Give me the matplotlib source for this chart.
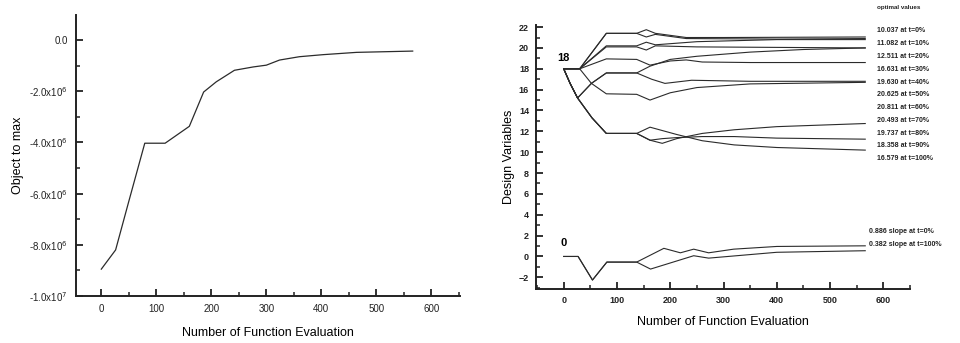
import matplotlib
matplotlib.use('Agg')
import matplotlib.pyplot as plt
from matplotlib.ticker import MultipleLocator

plt.rcParams['font.family'] = ['Liberation Sans', 'DejaVu Sans']

# left panel: objective history
obj_x = [0, 26, 50, 79, 116, 160, 186, 209, 242, 276, 300, 324, 360, 403, 464, 566]
obj_y = [-8.95, -8.2, -6.3, -4.03, -4.03, -3.37, -2.03, -1.63, -1.18, -1.05, -0.98, -0.78,
         -0.65, -0.57, -0.48, -0.43]
obj_ticks = [0, -2, -4, -6, -8, -10]
obj_labels = ['0.0', '-2.0x10$^6$', '-4.0x10$^6$', '-6.0x10$^6$', '-8.0x10$^6$', '-1.0x10$^7$']

# right panel: design variables
dv_a1_x = [0, 30, 80, 137, 155, 172, 230, 300, 566]
dv_a1_y = [18, 18, 21.4, 21.4, 21.75, 21.4, 21.0, 21.0, 21.05]
dv_a2_x = [0, 30, 80, 137, 155, 172, 230, 400, 566]
dv_a2_y = [18, 18, 21.4, 21.4, 21.05, 21.3, 20.9, 20.85, 20.9]
dv_b1_x = [0, 30, 80, 137, 155, 172, 250, 400, 566]
dv_b1_y = [18, 18, 20.2, 20.2, 20.55, 20.3, 20.6, 20.8, 20.8]
dv_b2_x = [0, 30, 80, 137, 155, 172, 250, 566]
dv_b2_y = [18, 18, 20.1, 20.1, 19.8, 20.2, 20.1, 20.0]
dv_c_x = [0, 30, 80, 137, 162, 200, 230, 260, 350, 566]
dv_c_y = [18, 18, 18.95, 18.9, 18.35, 18.75, 18.85, 18.65, 18.6, 18.6]
dv_d1_x = [0, 12, 26, 52, 80, 137, 162, 200, 250, 350, 450, 566]
dv_d1_y = [18, 16.6, 15.2, 16.6, 17.6, 17.6, 18.25, 18.9, 19.2, 19.6, 19.85, 20.0]
dv_d2_x = [0, 12, 26, 52, 80, 137, 165, 190, 240, 350, 566]
dv_d2_y = [18, 16.6, 15.2, 16.6, 17.6, 17.6, 17.0, 16.6, 16.9, 16.8, 16.8]
dv_e_x = [0, 30, 52, 80, 137, 162, 200, 250, 350, 566]
dv_e_y = [18, 18, 16.6, 15.6, 15.55, 15.0, 15.7, 16.2, 16.55, 16.7]
dv_f1_x = [0, 12, 26, 53, 80, 137, 162, 212, 260, 320, 400, 566]
dv_f1_y = [18, 16.6, 15.2, 13.3, 11.8, 11.8, 12.4, 11.7, 11.1, 10.7, 10.45, 10.2]
dv_f2_x = [0, 12, 26, 53, 80, 137, 162, 185, 212, 260, 320, 400, 566]
dv_f2_y = [18, 16.6, 15.2, 13.3, 11.8, 11.8, 11.15, 10.85, 11.3, 11.8, 12.15, 12.45, 12.75]
dv_f3_x = [0, 12, 26, 53, 80, 137, 162, 185, 212, 260, 320, 400, 566]
dv_f3_y = [18, 16.6, 15.2, 13.3, 11.8, 11.8, 11.15, 11.3, 11.4, 11.5, 11.5, 11.35, 11.25]

slope_hi_x = [0, 27, 54, 81, 137, 188, 219, 244, 272, 319, 400, 566]
slope_hi_y = [0, 0, -2.26, -0.54, -0.54, 0.78, 0.35, 0.7, 0.35, 0.7, 0.96, 1.02]
slope_lo_x = [0, 27, 54, 81, 137, 163, 244, 272, 400, 566]
slope_lo_y = [0, 0, -2.26, -0.54, -0.54, -1.21, 0.07, -0.16, 0.4, 0.55]

opt_labels = ['10.037 at t=0%', '11.082 at t=10%', '12.511 at t=20%', '16.631 at t=30%',
              '19.630 at t=40%', '20.625 at t=50%', '20.811 at t=60%', '20.493 at t=70%',
              '19.737 at t=80%', '18.358 at t=90%', '16.579 at t=100%']
slope_labels = ['0.886 slope at t=0%', '0.382 slope at t=100%']

LINE = '#2b2b2b'
W, H = 960, 343


def style_axes(ax):
    for s in ['top', 'right']:
        ax.spines[s].set_visible(False)
    for s in ['left', 'bottom']:
        ax.spines[s].set_linewidth(1.4)
        ax.spines[s].set_color('#222222')
    ax.tick_params(which='major', direction='in', length=5, width=1.3, colors='#222222')
    ax.tick_params(which='minor', direction='in', length=3, width=1.1, colors='#222222')
    ax.xaxis.set_major_locator(MultipleLocator(100))
    ax.xaxis.set_minor_locator(MultipleLocator(50))


fig = plt.figure(figsize=(9.6, 3.43), dpi=100)

# left
ax1 = fig.add_axes([76 / W, 1 - 296 / H, (460 - 76) / W, (296 - 15) / H])
ax1.plot(obj_x, obj_y, color=LINE, lw=0.9)
ax1.set_xlim(-46, 652)
ax1.set_ylim(-10, 0.98)
style_axes(ax1)
ax1.set_yticks(obj_ticks)
ax1.set_yticklabels(obj_labels)
ax1.yaxis.set_minor_locator(MultipleLocator(1))
ax1.tick_params(axis='both', labelsize=7, colors='#222222', pad=6)
ax1.set_xlabel('Number of Function Evaluation', fontsize=9, labelpad=9)
ax1.set_ylabel('Object to max', fontsize=9, labelpad=4)

# right
ax2 = fig.add_axes([536 / W, 1 - 289.3 / H, (910 - 536) / W, (289.3 - 25) / H])
for xs, ys in [(dv_a1_x, dv_a1_y), (dv_a2_x, dv_a2_y), (dv_b1_x, dv_b1_y), (dv_b2_x, dv_b2_y),
               (dv_c_x, dv_c_y), (dv_d1_x, dv_d1_y), (dv_d2_x, dv_d2_y), (dv_e_x, dv_e_y),
               (dv_f1_x, dv_f1_y), (dv_f2_x, dv_f2_y), (dv_f3_x, dv_f3_y),
               (slope_hi_x, slope_hi_y), (slope_lo_x, slope_lo_y)]:
    ax2.plot(xs, ys, color=LINE, lw=0.8)
ax2.set_xlim(-52, 650)
ax2.set_ylim(-3.15, 22.2)
style_axes(ax2)
ax2.yaxis.set_major_locator(MultipleLocator(2))
ax2.yaxis.set_minor_locator(MultipleLocator(1))
ax2.tick_params(axis='both', labelsize=6.5, colors='#222222', pad=5)
for lab in ax2.get_xticklabels() + ax2.get_yticklabels():
    lab.set_fontweight('bold')
ax2.set_xlabel('Number of Function Evaluation', fontsize=9, labelpad=8)
ax2.set_ylabel('Design Variables', fontsize=9, labelpad=3)
ax2.text(0, 19.0, '18', fontsize=8, fontweight='bold', ha='center', va='center')
ax2.text(0, 1.3, '0', fontsize=8, fontweight='bold', ha='center', va='center')

fig.text(877 / W, 1 - 7 / H, 'optimal values', fontsize=4.5, fontweight='bold',
         ha='left', va='center', color='#222222')
for i, lab in enumerate(opt_labels):
    fig.text(877 / W, 1 - (31 + 12.77 * i) / H, lab, fontsize=5, fontweight='bold',
             ha='left', va='center', color='#222222')
for i, lab in enumerate(slope_labels):
    fig.text(869 / W, 1 - (231.7 + 12.3 * i) / H, lab, fontsize=5, fontweight='bold',
             ha='left', va='center', color='#222222')

fig.savefig('out.png', dpi=100)
